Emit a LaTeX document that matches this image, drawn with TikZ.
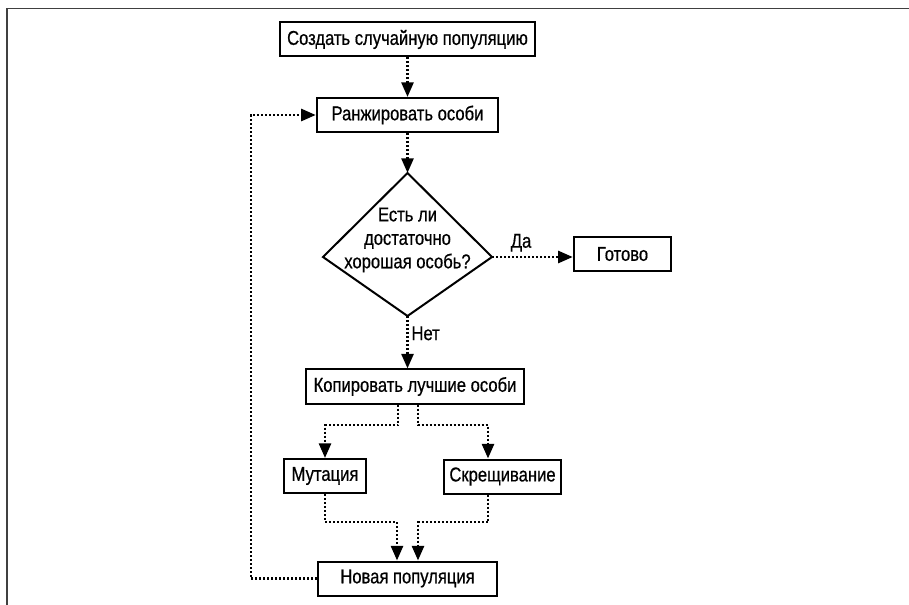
\documentclass[tikz,border=0pt]{standalone}
\usepackage{fontspec}
\setmainfont{Liberation Sans}[FakeStretch=0.83, FakeBold=0.6]
\usetikzlibrary{arrows.meta, positioning, shapes.geometric}

\begin{document}
\begin{tikzpicture}[
      x=0.75pt, y=-0.75pt,
      font=\fontsize{15pt}{17.6pt}\selectfont,
      box/.style={rectangle, draw=black, line width=1.5pt, minimum height=25.5pt, inner sep=2pt},
      kite/.style={draw=black, line width=1.5pt, line join=miter},
      flow/.style={line width=2pt, dash pattern=on 1.5pt off 1.5pt, -{Triangle[length=11pt, width=9pt]}},
      frame/.style={draw=black!75, line width=1.3pt}
    ]
    \useasboundingbox (0,0) rectangle (909,605);
    \draw[frame] (7,605) -- (7,8.5) -- (909,8.5);
    % main column
    \node[box, minimum width=191.6pt] (create) at (407.5,39.5) {Создать случайную популяцию};
    \node[box, minimum width=136.1pt] (rank) at (407.5,115) {Ранжировать особи};
    % decision corners
    \coordinate (checkN) at (407.5,173);
    \coordinate (checkE) at (492,257);
    \coordinate (checkS) at (407.5,316);
    \coordinate (checkW) at (323,257);
    \draw[kite] (checkN) -- (checkE) -- (checkS) -- (checkW) -- cycle;
    \node[align=center, inner sep=0pt] (question) at (407.5,240) {Есть ли\\достаточно\\хорошая особь?};
    \node[box, minimum width=73.1pt] (done) at (622.5,254) {Готово};
    \node[box, minimum width=163.9pt] (copy) at (415,386.5) {Копировать лучшие особи};
    \node[box, minimum width=61.9pt] (mutate) at (325,476) {Мутация};
    \node[box, minimum width=88.1pt] (cross) at (502.5,476.5) {Скрещивание};
    \node[box, minimum width=134pt] (newpop) at (407.5,578.5) {Новая популяция};
    % bends
    \coordinate (copyL) at (398,425);
    \coordinate (copyR) at (418,425);
    \coordinate (crossin) at (488,425);
    \coordinate (joinL) at (397,522);
    \coordinate (joinR) at (418,522);
    \coordinate (loop) at (251,347);
    \draw[flow] (create) -- (rank);
    \draw[flow] (rank) -- (checkN);
    \draw[flow] (checkE) -- node[pos=0.36, above, inner sep=3pt] (yes) {Да} (checkE -| done.west);
    \draw[flow] (checkS) -- node[pos=0.33, right, inner sep=2pt] (no) {Нет} (checkS |- copy.north);
    \draw[flow] (copyL |- copy.south) -- (copyL) -| (mutate.north);
    \draw[flow] (copyR |- copy.south) -- (copyR) -- (crossin) -- (crossin |- cross.north);
    \draw[flow] (mutate.south) |- (joinL) -- (joinL |- newpop.north);
    \draw[flow] (crossin |- cross.south) |- (joinR) -- (joinR |- newpop.north);
    \draw[flow] (newpop.west) -| (loop) |- (rank.west);
  \end{tikzpicture}
\end{document}
